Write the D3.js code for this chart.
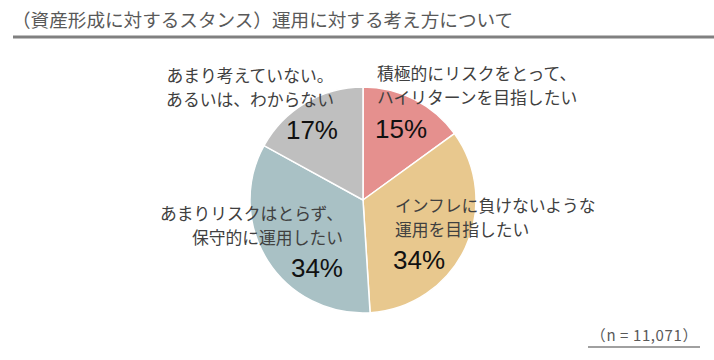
<!DOCTYPE html>
<html>
<head>
<meta charset="utf-8">
<script src="https://cdn.jsdelivr.net/npm/d3@7"></script>
<style>
  html, body { margin: 0; padding: 0; background: #fff; }
  svg { display: block; }
</style>
</head>
<body>
<div id="chart"></div>
<script>
const title = "（資産形成に対するスタンス）運用に対する考え方について";
const note = "（n = 11,071）";

const categories = [
  ["積極的にリスクをとって、", "ハイリターンを目指したい"],
  ["インフレに負けないような", "運用を目指したい"],
  ["あまりリスクはとらず、", "保守的に運用したい"],
  ["あまり考えていない。", "あるいは、わからない"]
];
const values = [15, 34, 34, 17];
const colors = ["#E5908E", "#E8C88E", "#A9C1C5", "#BFBFBF"];

// label placement relative to the pie centre (dx, dy of first line, anchor)
const labelLayout = [
  { x: 14, y: -127, anchor: "start", px: 12, py: -71, panchor: "start" },
  { x: 32, y: 5, anchor: "start", px: 30, py: 60, panchor: "start" },
  { x: -20, y: 13, anchor: "end", px: -20, py: 68, panchor: "end" },
  { x: -113, y: -125, anchor: "middle", px: -25, py: -70, panchor: "end" }
];

const width = 714, height = 360;
const cx = 363, cy = 200, r = 113;

const svg = d3.select("#chart").append("svg")
  .attr("width", width)
  .attr("height", height);

svg.append("text")
  .attr("x", 12)
  .attr("y", 27)
  .attr("font-family", "'Noto Sans CJK JP', sans-serif")
  .attr("font-size", 18.6)
  .attr("fill", "#595959")
  .text(title);

svg.append("line")
  .attr("x1", 13).attr("x2", width)
  .attr("y1", 37).attr("y2", 37)
  .attr("stroke", "#808080")
  .attr("stroke-width", 3);

const pie = d3.pie().sort(null).value(d => d);
const arc = d3.arc().innerRadius(0).outerRadius(r);

const g = svg.append("g").attr("transform", `translate(${cx},${cy})`);

g.selectAll("path.slice")
  .data(pie(values))
  .enter()
  .append("path")
  .attr("class", "slice")
  .attr("d", arc)
  .attr("fill", (d, i) => colors[i])
  .attr("stroke", "#fff")
  .attr("stroke-width", 1.5);

const labels = g.selectAll("g.label")
  .data(pie(values))
  .enter()
  .append("g")
  .attr("class", "label");

labels.each(function (d, i) {
  const L = labelLayout[i];
  const sel = d3.select(this);
  categories[i].forEach((line, k) => {
    sel.append("text")
      .attr("x", L.x)
      .attr("y", L.y + k * 24)
      .attr("dominant-baseline", "central")
      .attr("text-anchor", L.anchor)
      .attr("font-family", "'Noto Sans CJK JP', sans-serif")
      .attr("font-size", 16.8)
      .attr("fill", "#404040")
      .text(line);
  });
  sel.append("text")
    .attr("x", L.px)
    .attr("y", L.py)
    .attr("dominant-baseline", "central")
    .attr("text-anchor", L.panchor)
    .attr("font-family", "'Liberation Sans', Arial, sans-serif")
    .attr("font-size", 26)
    .attr("fill", "#111")
    .text(d3.format(".0f")(d.data) + "%");
});

svg.append("text")
  .attr("x", 698)
  .attr("y", 334)
  .attr("text-anchor", "end")
  .attr("dominant-baseline", "central")
  .attr("font-family", "'Noto Sans CJK JP', sans-serif")
  .attr("font-size", 15)
  .attr("letter-spacing", 0.6)
  .attr("fill", "#595959")
  .text(note);

svg.append("line")
  .attr("x1", 588).attr("x2", 700)
  .attr("y1", 347).attr("y2", 347)
  .attr("stroke", "#808080")
  .attr("stroke-width", 1.5);
</script>
</body>
</html>
